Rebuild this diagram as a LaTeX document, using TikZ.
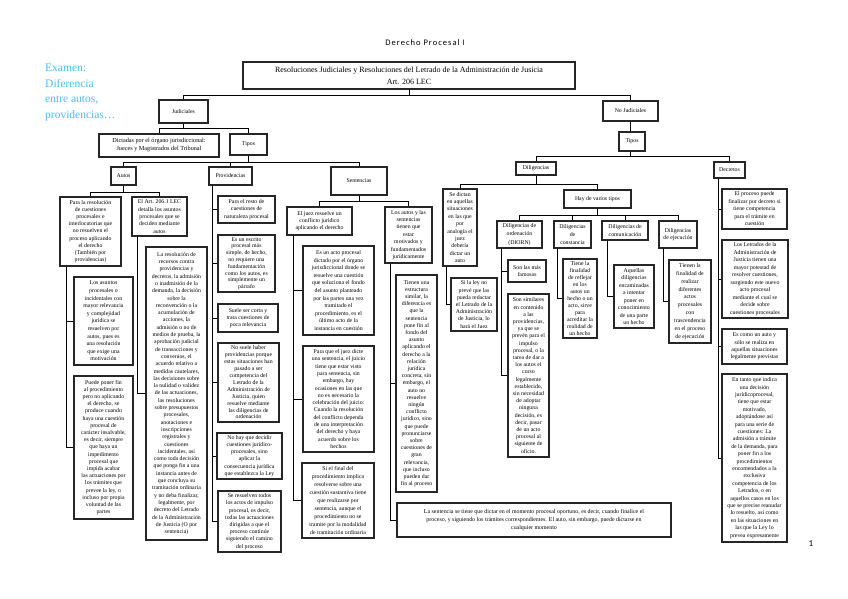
\documentclass[tikz,border=0pt]{standalone}
\usepackage{fontspec}
\setmainfont{Liberation Serif}
\newfontfamily\titlefont[LetterSpace=12]{Carlito}
\newfontfamily\numfont{Carlito}
\definecolor{exblue}{RGB}{70,190,240}
\tikzset{
  bx/.style={draw=black!85,line width=1.2pt,fill=white,inner sep=0.5pt,align=center,
    font=\fontsize{5.8}{7.2}\selectfont},
  conn/.style={draw=black,line width=0.9pt},
}
\newcommand{\bx}[7][]{%
  \pgfmathsetmacro{\myW}{#5-#3}%
  \pgfmathsetmacro{\myH}{#6-#4}%
  \pgfmathsetmacro{\myX}{(#3+#5)/2}%
  \pgfmathsetmacro{\myY}{(#4+#6)/2}%
  \node[bx,minimum width=\myW pt,minimum height=\myH pt,#1] (#2) at (\myX,\myY) {#7};}
\begin{document}
\begin{tikzpicture}[x=1pt,y=-1pt]
\useasboundingbox[fill=white] (0,0) rectangle (848,599);

% texts
\node[font=\titlefont\fontsize{8.5}{10}\selectfont,inner sep=0] (title) at (425,43) {Derecho Procesal I};
\node[font=\numfont\fontsize{9}{10}\selectfont,inner sep=0] (pagenum) at (811,544) {1};
\node[anchor=north west,inner sep=0,align=left,text=exblue,font=\fontsize{11.5}{15.5}\selectfont] (exam) at (45,64)
  {Examen:\\Diferencia\\entre autos,\\providencias…};

% main
\bx[font=\fontsize{8}{12}\selectfont]{main}{243}{62}{575}{89}{Resoluciones Judiciales y Resoluciones del Letrado de la Administración de Jusicia\\Art. 206 LEC}
\bx{jud}{159}{100}{208}{123}{Judiciales}
\bx{nojud}{603}{101}{658}{121}{No Judiciales}
\bx[font=\fontsize{6.2}{8}\selectfont]{dict}{99}{134}{219}{157}{Dictadas por el órgano jurisdiccional:\\Jueces y Magistrados del Tribunal}
\bx{tiposL}{230}{134}{267}{155}{Tipos}
\bx{autos}{111}{167}{136}{185}{Autos}
\bx{prov}{209}{167}{252}{185}{Providencias}
\bx{sent}{331}{167}{387}{195}{Sentencias}

% autos
\bx[font=\fontsize{5.8}{7.2}\selectfont]{au1}{60}{197}{121}{266}{Para la resolución\\de cuestiones\\procesales e\\interlocutorias que\\no resuelven el\\proceso aplicando\\el derecho\\(También por\\providencias)}
\bx[font=\fontsize{5.8}{7.4}\selectfont]{au2}{132}{197}{187}{236}{El Art. 206.1 LEC\\detalla los asuntos\\procesales que se\\deciden mediante\\autos}
\bx[font=\fontsize{5.8}{7.6}\selectfont]{au3}{74}{277}{133}{365}{Los asuntos\\procesales o\\incidentales con\\mayor relevancia\\y complejidad\\jurídica se\\resuelven por\\autos, pues es\\una resolución\\que exige una\\motivación}
\bx{au4}{74}{376}{133}{519}{Puede poner fin\\al procedimiento\\pero no aplicando\\el derecho, se\\produce cuando\\haya una cuestión\\procesal de\\carácter insalvable,\\es decir, siempre\\que haya un\\impedimento\\procesal que\\impida acabar\\las actuaciones por\\los trámites que\\prevee la ley, o\\incluso por propia\\voluntad de las\\partes}
\bx[font=\fontsize{5.8}{7.3}\selectfont]{au5}{146}{247}{207}{540}{La resolución de\\recursos contra\\providencias y\\decretos, la admisión\\o inadmisión de la\\demanda, la decisión\\sobre la\\reconvención o la\\acumulación de\\acciones, la\\admisión o no de\\medios de prueba, la\\aprobación judicial\\de transacciones y\\convenios, el\\acuerdo relativo a\\medidas cautelares,\\las decisiones sobre\\la nulidad o validez\\de las actuaciones,\\las resoluciones\\sobre presupuestos\\procesales,\\anotaciones e\\inscripciones\\registrales y\\cuestiones\\incidentales, así\\como toda decisión\\que ponga fin a una\\instancia antes de\\que concluya su\\tramitación ordinaria\\y no deba finalizar,\\legalmente, por\\decreto del Letrado\\de la Administración\\de Justicia (O por\\sentencia)}

% providencias
\bx{p1}{218}{196}{275}{223}{Para el resto de\\cuestiones de\\naturaleza procesal}
\bx[font=\fontsize{5.8}{6.8}\selectfont]{p2}{218}{235}{275}{292}{Es un escrito\\procesal más\\simple, de hecho,\\no requiere una\\fundamentación\\como los autos, es\\simplemente un\\párrafo}
\bx{p3}{218}{304}{278}{332}{Suele ser corta y\\trata cuestiones de\\poca relevancia}
\bx[font=\fontsize{5.8}{6.9}\selectfont]{p4}{218}{343}{279}{422}{No suele haber\\providencias porque\\estas situaciones han\\pasado a ser\\competencia del\\Letrado de la\\Administración de\\Justicia, quien\\resuelve mediante\\las diligencias de\\ordenación}
\bx{p5}{217}{433}{282}{479}{No hay que decidir\\cuestiones jurídico-\\procesales, sino\\aplicar la\\consecuencia jurídica\\que establezca la Ley}
\bx{p6}{218}{491}{281}{552}{Se resuelven todos\\los actos de impulso\\procesal, es decir,\\todas las actuaciones\\dirigidas a que el\\proceso continúe\\siguiendo el camino\\del proceso}

% sentencias
\bx{sa}{287}{207}{352}{235}{El juez resuelve un\\conflicto jurídico\\aplicando el derecho}
\bx[font=\fontsize{5.8}{7.4}\selectfont]{sb}{385}{207}{432}{263}{Los autos y las\\sentencias\\tienen que\\estar\\motivados y\\fundamentados\\jurídicamente}
\bx[font=\fontsize{5.8}{7.6}\selectfont]{sa1}{303}{246}{374}{335}{Es un acto procesal\\dictado por el órgano\\jurisdiccional donde se\\resuelve una cuestión\\que soluciona el fondo\\del asunto planteado\\por las partes una vez\\tramitado el\\procedimiento, es el\\último acto de la\\instancia en cuestión}
\bx[font=\fontsize{5.8}{7.3}\selectfont]{sa2}{303}{346}{374}{452}{Para que el juez dicte\\una sentencia, el juicio\\tiene que estar visto\\para sentencia, sin\\embargo, hay\\ocasiones en las que\\no es necesario la\\celebración del juicio:\\Cuando la resolución\\del conflicto dependa\\de una interpretación\\del derecho y haya\\acuerdo sobre los\\hechos}
\bx[font=\fontsize{5.8}{7.9}\selectfont]{sa3}{302}{463}{374}{538}{Si el final del\\procedimiento implica\\resolverse sobre una\\cuestión sustantiva tiene\\que realizarse por\\sentencia, aunque el\\procedimiento no se\\tramite por la modalidad\\de tramitación ordinaria}
\bx{sb1}{396}{275}{437}{492}{Tienen una\\estructura\\similar, la\\diferencia es\\que la\\sentencia\\pone fin al\\fondo del\\asunto\\aplicando el\\derecho a la\\relación\\jurídica\\concreta, sin\\embargo, el\\auto no\\resuelve\\ningún\\conflicto\\jurídico, sino\\que puede\\pronunciarse\\sobre\\cuestiones de\\gran\\relevancia,\\que incluso\\pueden dar\\fin al proceso}
\bx[font=\fontsize{5.9}{7.6}\selectfont]{sb2}{397}{503}{671}{537}{La sentencia se tiene que dictar en el momento procesal oportuno, es decir, cuando finalice el\\proceso, y siguiendo los trámites correspondientes. El auto, sin embargo, puede dictarse en\\cualquier momento}

% no judiciales
\bx{tiposR}{619}{132}{645}{151}{Tipos}
\bx{dilig}{516}{162}{556}{175}{Diligencias}
\bx{decr}{714}{162}{745}{178}{Decretos}
\bx[font=\fontsize{5.8}{7.4}\selectfont]{d1}{443}{189}{477}{266}{Se dictan\\en aquellas\\situaciones\\en las que\\por\\analogía el\\juez\\debería\\dictar un\\auto}
\bx{d1a}{451}{278}{497}{331}{Si la ley no\\prevé que las\\pueda redactar\\el Letrado de la\\Administración\\de Justicia, lo\\hará el Juez}
\bx{d2}{564}{190}{631}{208}{Hay de varios tipos}
\bx[font=\fontsize{5.8}{8.6}\selectfont]{da}{497}{221}{542}{248}{Diligencias de\\ordenación\\(DIORN)}
\bx[font=\fontsize{5.8}{7.8}\selectfont]{db}{554}{221}{591}{248}{Diligencias\\de\\constancia}
\bx{dc}{602}{221}{648}{240}{Diligencias de\\comunicación}
\bx{dd}{659}{221}{697}{248}{Diligencias\\de ejecución}
\bx{da1}{508}{260}{546}{282}{Son las más\\famosas}
\bx{da2}{508}{294}{549}{457}{Son similares\\en contenido\\a las\\providencias,\\ya que se\\prevén para el\\impulso\\procesal, o la\\tarea de dar a\\los autos el\\curso\\legalmente\\establecido,\\sin necesidad\\de adoptar\\ninguna\\decisión, es\\decir, pasar\\de un acto\\procesal al\\siguiente de\\oficio.}
\bx[font=\fontsize{5.8}{7}\selectfont]{db1}{563}{259}{597}{338}{Tiene la\\finalidad\\de reflejar\\en los\\autos un\\hecho o un\\acto, sirve\\para\\acreditar la\\realidad de\\un hecho}
\bx[font=\fontsize{5.8}{7.5}\selectfont]{dc1}{614}{265}{654}{328}{Aquellas\\diligencias\\encaminadas\\a intentar\\poner en\\conocimiento\\de una parte\\un hecho}
\bx[font=\fontsize{5.8}{7.9}\selectfont]{dd1}{669}{260}{711}{343}{Tienen la\\finalidad de\\realizar\\diferentes\\actos\\procesales\\con\\trascendencia\\en el proceso\\de ejecución}

% decretos
\bx[font=\fontsize{5.8}{7.5}\selectfont]{e1}{722}{189}{787}{229}{El proceso puede\\finalizar por decreto si\\tiene competencia\\para el trámite en\\cuestión}
\bx[font=\fontsize{5.8}{7.5}\selectfont]{e2}{722}{240}{788}{318}{Los Letrados de la\\Administración de\\Justicia tienen una\\mayor potestad de\\resolver cuestiones,\\surgiendo este nuevo\\acto procesal\\mediante el cual se\\decide sobre\\cuestiones procesales}
\bx{e3}{722}{329}{787}{364}{Es como un auto y\\sólo se realiza en\\aquellas situaciones\\legalmente previstas}
\bx[font=\fontsize{5.8}{7.4}\selectfont]{e4}{722}{374}{787}{542}{En tanto que indica\\una decisión\\jurídicoprocesal,\\tiene que estar\\motivado,\\adoptándose así\\para una serie de\\cuestiones: La\\admisión a trámite\\de la demanda, para\\poner fin a los\\procedimientos\\encomendados a la\\exclusiva\\competencia de los\\Letrados, o en\\aquellos casos en los\\que se precise reanudar\\lo resuelto, así como\\en las situaciones en\\las que la Ley lo\\prevea expresamente}

% bar levels and rails
\coordinate (yMain) at (0,95);
\coordinate (yJud) at (0,128);
\coordinate (yTipL) at (0,162);
\coordinate (yAut) at (0,192);
\coordinate (ySent) at (0,201);
\coordinate (yTipR) at (0,156);
\coordinate (yDil) at (0,184);
\coordinate (yVar) at (0,215);
\coordinate (rAu1) at (66,0);
\coordinate (rAu2) at (137,0);
\coordinate (rProv) at (212,0);
\coordinate (rSa) at (293,0);
\coordinate (rSb) at (390,0);
\coordinate (rD1) at (446,0);
\coordinate (rDa) at (501,0);
\coordinate (rDb) at (557,0);
\coordinate (rDc) at (607,0);
\coordinate (rDd) at (663,0);
\coordinate (rDec) at (718,0);

\foreach \c in {jud,nojud}{\draw[conn] (main.south) -- (main.south |- yMain) -| (\c.north);}
\foreach \c in {dict,tiposL}{\draw[conn] (jud.south) -- (jud.south |- yJud) -| (\c.north);}
\foreach \c in {autos,prov,sent}{\draw[conn] (tiposL.south) -- (tiposL.south |- yTipL) -| (\c.north);}
\foreach \c in {au1,au2}{\draw[conn] (autos.south) -- (autos.south |- yAut) -| (\c.north);}
\foreach \c in {au3,au4}{\draw[conn] (au1.south -| rAu1) |- (\c.west);}
\draw[conn] (au2.south -| rAu2) |- (au5.west);
\foreach \c in {p1,p2,p3,p4,p5,p6}{\draw[conn] (prov.south -| rProv) |- (\c.west);}
\foreach \c in {sa,sb}{\draw[conn] (sent.south) -- (sent.south |- ySent) -| (\c.north);}
\foreach \c in {sa1,sa2,sa3}{\draw[conn] (sa.south -| rSa) |- (\c.west);}
\foreach \c in {sb1,sb2}{\draw[conn] (sb.south -| rSb) |- (\c.west);}
\draw[conn] (nojud.south) -- (nojud.south |- tiposR.north);
\foreach \c in {dilig,decr}{\draw[conn] (tiposR.south -| nojud.south) -- (nojud.south |- yTipR) -| (\c.north);}
\foreach \c in {d1,d2}{\draw[conn] (dilig.south) -- (dilig.south |- yDil) -| (\c.north);}
\draw[conn] (d1.south -| rD1) |- (d1a.west);
\foreach \c in {da,db,dc,dd}{\draw[conn] (d2.south) -- (d2.south |- yVar) -| (\c.north);}
\foreach \c in {da1,da2}{\draw[conn] (da.south -| rDa) |- (\c.west);}
\draw[conn] (db.south -| rDb) |- (db1.west);
\draw[conn] (dc.south -| rDc) |- (dc1.west);
\draw[conn] (dd.south -| rDd) |- (dd1.west);
\foreach \c in {e1,e2,e3,e4}{\draw[conn] (decr.south -| rDec) |- (\c.west);}
\end{tikzpicture}
\end{document}
